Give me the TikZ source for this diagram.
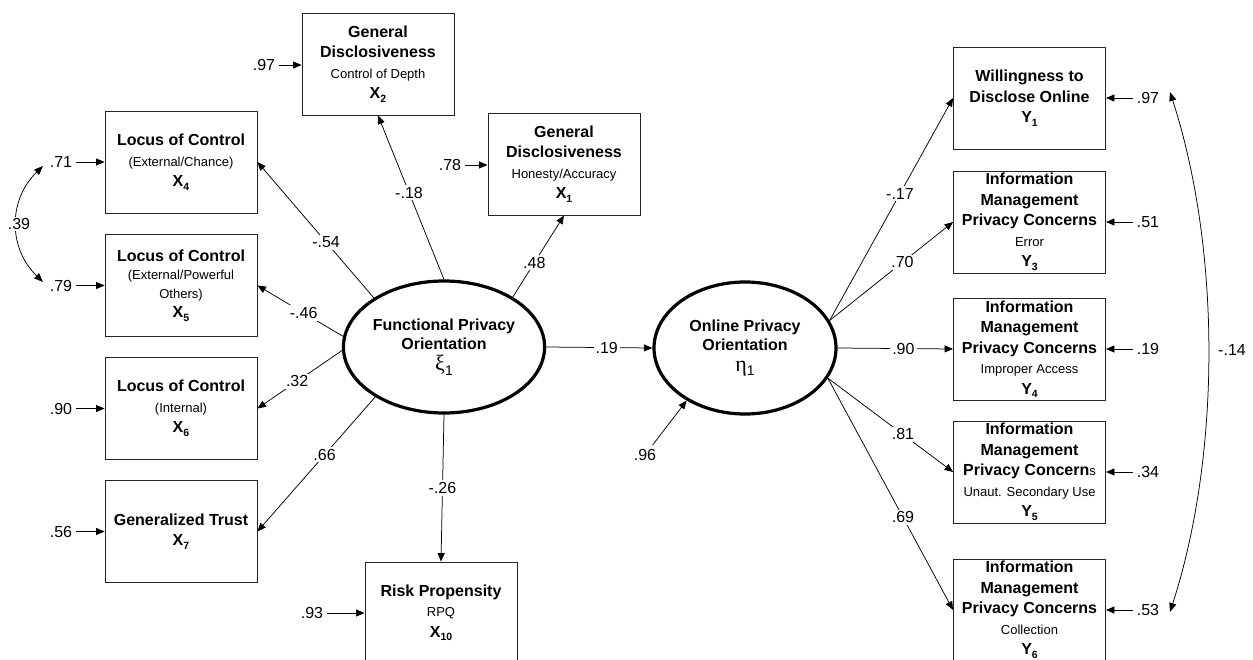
\documentclass[tikz,border=0pt]{standalone}
\usepackage{fontspec}
\setmainfont{Liberation Sans}
\newfontfamily\greekfont{Liberation Serif}
\usetikzlibrary{shapes.geometric,arrows.meta}

% indicator symbol with a bold lowered index, e.g. X_4
\newcommand\varsub[2]{#1\raisebox{-3.5pt}{\fontsize{10.5}{11}\selectfont\bfseries #2}}
% light sub-caption line inside a box
\newcommand\smalltxt[1]{{\fontsize{13}{20.5}\selectfont\mdseries #1}}
% latent variable symbol (serif Greek letter with index)
\newcommand\latsym[2]{{\mdseries\greekfont\fontsize{22}{20}\selectfont #1}\raisebox{-4.5pt}{\mdseries\fontsize{14}{14}\selectfont #2}}

\tikzset{
  obs/.style={draw=black!85, line width=0.9pt, minimum width=152pt, minimum height=102pt,
              inner sep=0pt, align=center, font=\fontsize{16}{20.5}\selectfont\bfseries},
  lat/.style={draw, ellipse, line width=3.2pt, minimum width=182pt, minimum height=132pt,
              inner sep=0pt, align=center, font=\fontsize{16}{19}\selectfont\bfseries},
  coef/.style={font=\fontsize{16}{16}\selectfont, fill=white, inner sep=2pt},
  err/.style={font=\fontsize{16}{16}\selectfont, inner sep=4pt},
  link/.style={line width=0.75pt, -{Triangle[length=8.5pt,width=7pt]}},
  twoway/.style={line width=0.75pt, {Triangle[length=9pt,width=7pt]}-{Triangle[length=9pt,width=7pt]}},
}

\begin{document}
\begin{tikzpicture}[x=1pt,y=-1pt]
\useasboundingbox (0,0) rectangle (1253,660);
\fill[white] (0,0) rectangle (1253,660);

% ---- latent variables ----
\node[lat] (xi)  at (444,347) {Functional Privacy\\Orientation\\[2pt]\latsym{ξ}{1}};
\node[lat] (eta) at (745,348) {Online Privacy\\Orientation\\[2pt]\latsym{η}{1}};

% ---- exogenous indicators ----
\node[obs] (X2) at (378,64)  {General\\Disclosiveness\\\smalltxt{Control of Depth}\\\varsub{X}{2}};
\node[obs] (X1) at (564,164) {General\\Disclosiveness\\\smalltxt{Honesty/Accuracy}\\\varsub{X}{1}};
\node[obs] (X4) at (181,162) {Locus of Control\\\smalltxt{(External/Chance)}\\\varsub{X}{4}};
\node[obs] (X5) at (181,285.5) {Locus of Control\\[-2pt]\smalltxt{(External/Powerful}\\[-2pt]\smalltxt{Others)}\\[-1pt]\varsub{X}{5}};
\node[obs] (X6) at (181,408.5) {Locus of Control\\\smalltxt{(Internal)}\\\varsub{X}{6}};
\node[obs] (X7) at (181,531.5) {Generalized Trust\\\varsub{X}{7}};
\node[obs] (X10) at (441,613) {Risk Propensity\\\smalltxt{RPQ}\\\varsub{X}{10}};

% ---- endogenous indicators ----
\node[obs] (Y1) at (1029.5,98)  {Willingness to\\Disclose Online\\\varsub{Y}{1}};
\node[obs] (Y3) at (1029.5,222) {Information\\Management\\Privacy Concerns\\\smalltxt{Error}\\\varsub{Y}{3}};
\node[obs] (Y4) at (1029.5,349) {Information\\Management\\Privacy Concerns\\\smalltxt{Improper Access}\\\varsub{Y}{4}};
\node[obs] (Y5) at (1029.5,472) {Information\\Management\\Privacy Concern{\fontsize{13}{20.5}\selectfont\mdseries s}\\\smalltxt{Unaut. Secondary Use}\\\varsub{Y}{5}};
\node[obs] (Y6) at (1029.5,610) {Information\\Management\\Privacy Concerns\\\smalltxt{Collection}\\\varsub{Y}{6}};

% ---- loadings of the exogenous factor ----
\draw[link] (xi.145) -- node[coef,pos=0.41] {-.54} (X4.east);
\draw[link] (xi.174) -- node[coef,pos=0.46] {-.46} (X5.east);
\draw[link] (xi.182) -- node[coef,pos=0.53] {.32} (X6.east);
\draw[link] (xi.216) -- node[coef,pos=0.43] {.66} (X7.east);
\draw[link] (xi.north) -- node[coef,pos=0.53] {-.18} (X2.south);
\draw[link] (xi.36) -- node[coef,pos=0.42] {.48} (X1.south);
\draw[link] (xi.south) -- node[coef,pos=0.5] {-.26} (X10.north);

% ---- structural path ----
\draw[link] (xi.east) -- node[coef,pos=0.57] {.19} (eta.west);

% ---- loadings of the endogenous factor ----
\draw[link] (eta.18) -- node[coef,pos=0.57] {-.17} (Y1.west);
\draw[link] (eta.18) -- node[coef,pos=0.59] {.70} (Y3.west);
\draw[link] (eta.east) -- node[coef,pos=0.57] {.90} (Y4.west);
\draw[link] (eta.-20) -- node[coef,pos=0.6] {.81} (Y5.west);
\draw[link] (eta.-20) -- node[coef,pos=0.6] {.69} (Y6.west);

% ---- error terms ----
\node[err] (e2) at (264,65) {.97};
\node[err] (e1) at (450,165) {.78};
\node[err] (e4) at (61,162) {.71};
\node[err] (e5) at (61,285.5) {.79};
\node[err] (e6) at (61,408.5) {.90};
\node[err] (e7) at (61,531.5) {.56};
\node[err] (e10) at (312,613) {.93};
\draw[link] (e2) -- (X2.west |- e2);
\draw[link] (e1) -- (X1.west |- e1);
\draw[link] (e4) -- (X4);
\draw[link] (e5) -- (X5);
\draw[link] (e6) -- (X6);
\draw[link] (e7) -- (X7);
\draw[link] (e10) -- (X10);

\node[err] (r1) at (1148,98) {.97};
\node[err] (r3) at (1148,222) {.51};
\node[err] (r4) at (1148,349) {.19};
\node[err] (r5) at (1148,472) {.34};
\node[err] (r6) at (1148,610) {.53};
\draw[link] (r1) -- (Y1);
\draw[link] (r3) -- (Y3);
\draw[link] (r4) -- (Y4);
\draw[link] (r5) -- (Y5);
\draw[link] (r6) -- (Y6);

% disturbance of the endogenous factor
\node[err] (d1) at (645,455) {.96};
\draw[link] (d1) -- (eta.222);

% ---- error covariances ----
\coordinate (c4) at (43,166);
\coordinate (c5) at (43,282);
\draw[twoway] (c4) .. controls (8,200) and (8,248) .. (c5);
\node[coef, inner sep=1pt] (cov45) at (19,224) {.39};

\coordinate (c1) at (1170,92);
\coordinate (c6) at (1170,612);
\draw[twoway] (c1) .. controls (1221,250) and (1221,454) .. (c6);
\node[err] (cov16) at (1232,350) {-.14};
\end{tikzpicture}
\end{document}
